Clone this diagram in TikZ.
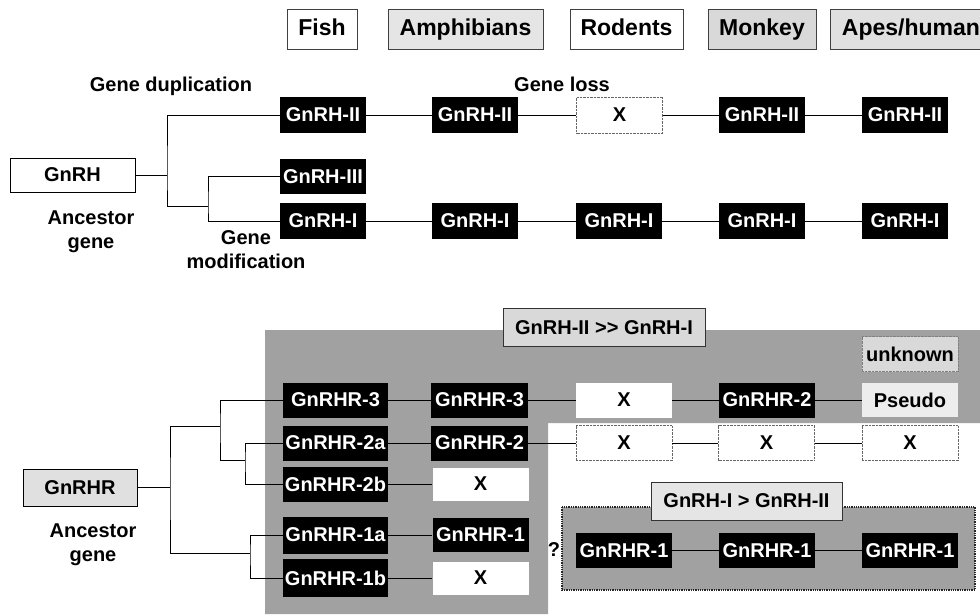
\documentclass[tikz,border=0pt]{standalone}
\usepackage{fontspec}
\setmainfont{Liberation Sans}
\usepackage{tikz}

\begin{document}
\begin{tikzpicture}
[
	x=1pt, y=-1pt,
	every node/.style={font=\fontsize{20}{24}\selectfont\bfseries, inner sep=0pt},
	gene/.style={fill=black, text=white, minimum width=86pt, minimum height=36pt},
	rgene/.style={fill=black, text=white, minimum width=96pt, minimum height=35pt},
	lgene/.style={fill=black, text=white, minimum width=105pt, minimum height=35pt},
	lost/.style={fill=white, draw=black!60, densely dotted, minimum width=86pt, minimum height=36pt},
	blank/.style={fill=white, minimum width=96pt, minimum height=33pt},
	species/.style={draw=black!75, thin, minimum height=40pt, text height=17pt, text depth=5pt, font=\fontsize{23}{27}\selectfont\bfseries},
	tagbox/.style={draw=black!80, line width=1pt, minimum height=38pt},
	tag/.style={align=center},
	myBranch/.style={line width=0.9pt, color=black}
]

\useasboundingbox (0,0) rectangle (980,614);

% Draw shaded areas
\fill[black!37] (265,330) -- (980,330) -- (980,423) -- (548,423) -- (548,614) -- (265,614) -- cycle;
\filldraw[fill=black!37, draw=black!85, densely dotted, line width=1.3pt] (562,507) rectangle (975,590);

% Species headers
\node[species, fill=white, minimum width=70pt] (fish) at (322,29) {Fish};
\node[species, fill=black!10, minimum width=155pt] (amph) at (465.5,29) {Amphibians};
\node[species, fill=white, minimum width=113pt] (rod) at (626.5,29) {Rodents};
\node[species, fill=black!15, minimum width=108pt] (monk) at (762,29) {Monkey};
\node[species, fill=black!12, minimum width=162pt] (apes) at (911,29) {Apes/human};

% Ligand genes
\node[draw, thin, fill=white, minimum width=125pt, minimum height=34pt] (gnrh) at (72.5,175) {GnRH};
\node[gene] (twoFish) at (323,115) {GnRH-II};
\node[gene] (twoAmph) at (475,115) {GnRH-II};
\node[lost] (twoRod) at (619.5,115) {X};
\node[gene] (twoMonk) at (762,115) {GnRH-II};
\node[gene] (twoApes) at (905,115) {GnRH-II};
\node[gene, minimum height=35pt] (three) at (323,176.5) {GnRH-III};
\node[gene] (oneFish) at (323,221) {GnRH-I};
\node[gene] (oneAmph) at (475,221) {GnRH-I};
\node[gene] (oneRod) at (619,221) {GnRH-I};
\node[gene] (oneMonk) at (762,221) {GnRH-I};
\node[gene] (oneApes) at (905,221) {GnRH-I};

% Ligand labels
\node[tag] (dupTxt) at (171,86) {Gene duplication};
\node[tag] (lossTxt) at (562,84) {Gene loss};
\node[tag] (ancTxt) at (91,232) {Ancestor\\gene};
\node[tag] (modTxt) at (246,250) {Gene\\modification};

% Ligand tree
\coordinate (dup) at (167,175);
\coordinate (mod) at (208,206);
\draw[myBranch] (gnrh) -- (dup);
\draw[myBranch] (twoFish.west) -| (dup) |- (mod);
\draw[myBranch] (three.west) -| (mod) |- (oneFish.west);
\draw[myBranch] (twoFish) -- (twoAmph) -- (twoRod) -- (twoMonk) -- (twoApes);
\draw[myBranch] (oneFish) -- (oneAmph) -- (oneRod) -- (oneMonk) -- (oneApes);

% Receptor genes
\node[draw, thin, fill=black!12, minimum width=114pt, minimum height=37pt] (gnrhr) at (80,487.5) {GnRHR};
\node[tagbox, fill=black!15, minimum width=202pt] (ratioA) at (604,327.5) {GnRH-II >{}> GnRH-I};
\node[draw=black!50, densely dotted, fill=black!15, minimum width=96pt, minimum height=35pt] (unknown) at (910,354) {unknown};

\node[lgene] (rThree) at (335.5,400) {GnRHR-3};
\node[rgene, minimum width=97pt] (rThreeAmph) at (479.5,400) {GnRHR-3};
\node[blank, minimum height=35pt] (rThreeRod) at (624,400) {X};
\node[rgene] (rThreeMonk) at (767,400) {GnRHR-2};
\node[fill=black!7, minimum width=96pt, minimum height=34pt] (rThreeApes) at (910,400) {Pseudo};

\node[lgene] (rTwoA) at (335.5,443) {GnRHR-2a};
\node[rgene, minimum width=97pt] (rTwoAmph) at (479.5,443) {GnRHR-2};
\node[lost, minimum width=96pt, minimum height=35pt] (rTwoRod) at (624,443) {X};
\node[lost, minimum width=96pt, minimum height=35pt] (rTwoMonk) at (766.5,443) {X};
\node[lost, minimum width=96pt, minimum height=35pt] (rTwoApes) at (910,443) {X};

\node[lgene] (rTwoB) at (335.5,484) {GnRHR-2b};
\node[blank] (rTwoBAmph) at (480.5,484) {X};

\node[lgene, minimum height=37pt] (rOneA) at (335.5,535) {GnRHR-1a};
\node[rgene, minimum height=34pt] (rOneAmph) at (480.5,535) {GnRHR-1};

\node[lgene, minimum height=38pt] (rOneB) at (335.5,578) {GnRHR-1b};
\node[blank] (rOneBAmph) at (480.5,578) {X};

\node (query) at (554,550) {?};
\node[tagbox, fill=black!10, minimum width=191pt] (ratioB) at (746.5,501) {GnRH-I > GnRH-II};
\node[rgene] (rOneRod) at (624,550.5) {GnRHR-1};
\node[rgene] (rOneMonk) at (767,550.5) {GnRHR-1};
\node[rgene] (rOneApes) at (910,550.5) {GnRHR-1};

% Receptor labels
\node[tag] (ancRTxt) at (93,544.5) {Ancestor\\gene};

% Receptor tree
\coordinate (rec) at (170,487.5);
\coordinate (brThree) at (220,426);
\coordinate (brTwo) at (245,460);
\coordinate (brOne) at (250,553);
\draw[myBranch] (gnrhr) -- (rec);
\draw[myBranch] (brThree) -| (rec) |- (brOne);
\draw[myBranch] (rThree.west) -| (brThree) |- (brTwo);
\draw[myBranch] (rTwoA.west) -| (brTwo) |- (rTwoB.west);
\draw[myBranch] (rOneA.west) -| (brOne) |- (rOneB.west);

% Receptor lines
\draw[myBranch] (rThree) -- (rThreeAmph) -- (rThreeRod) -- (rThreeMonk) -- (rThreeApes);
\draw[myBranch] (rTwoA) -- (rTwoAmph) -- (rTwoRod) -- (rTwoMonk) -- (rTwoApes);
\draw[myBranch] (rTwoB) -- (rTwoBAmph);
\draw[myBranch] (rOneA) -- (rOneAmph);
\draw[myBranch] (rOneB) -- (rOneBAmph);
\draw[myBranch] (rOneRod) -- (rOneMonk) -- (rOneApes);

\end{tikzpicture}
\end{document}
